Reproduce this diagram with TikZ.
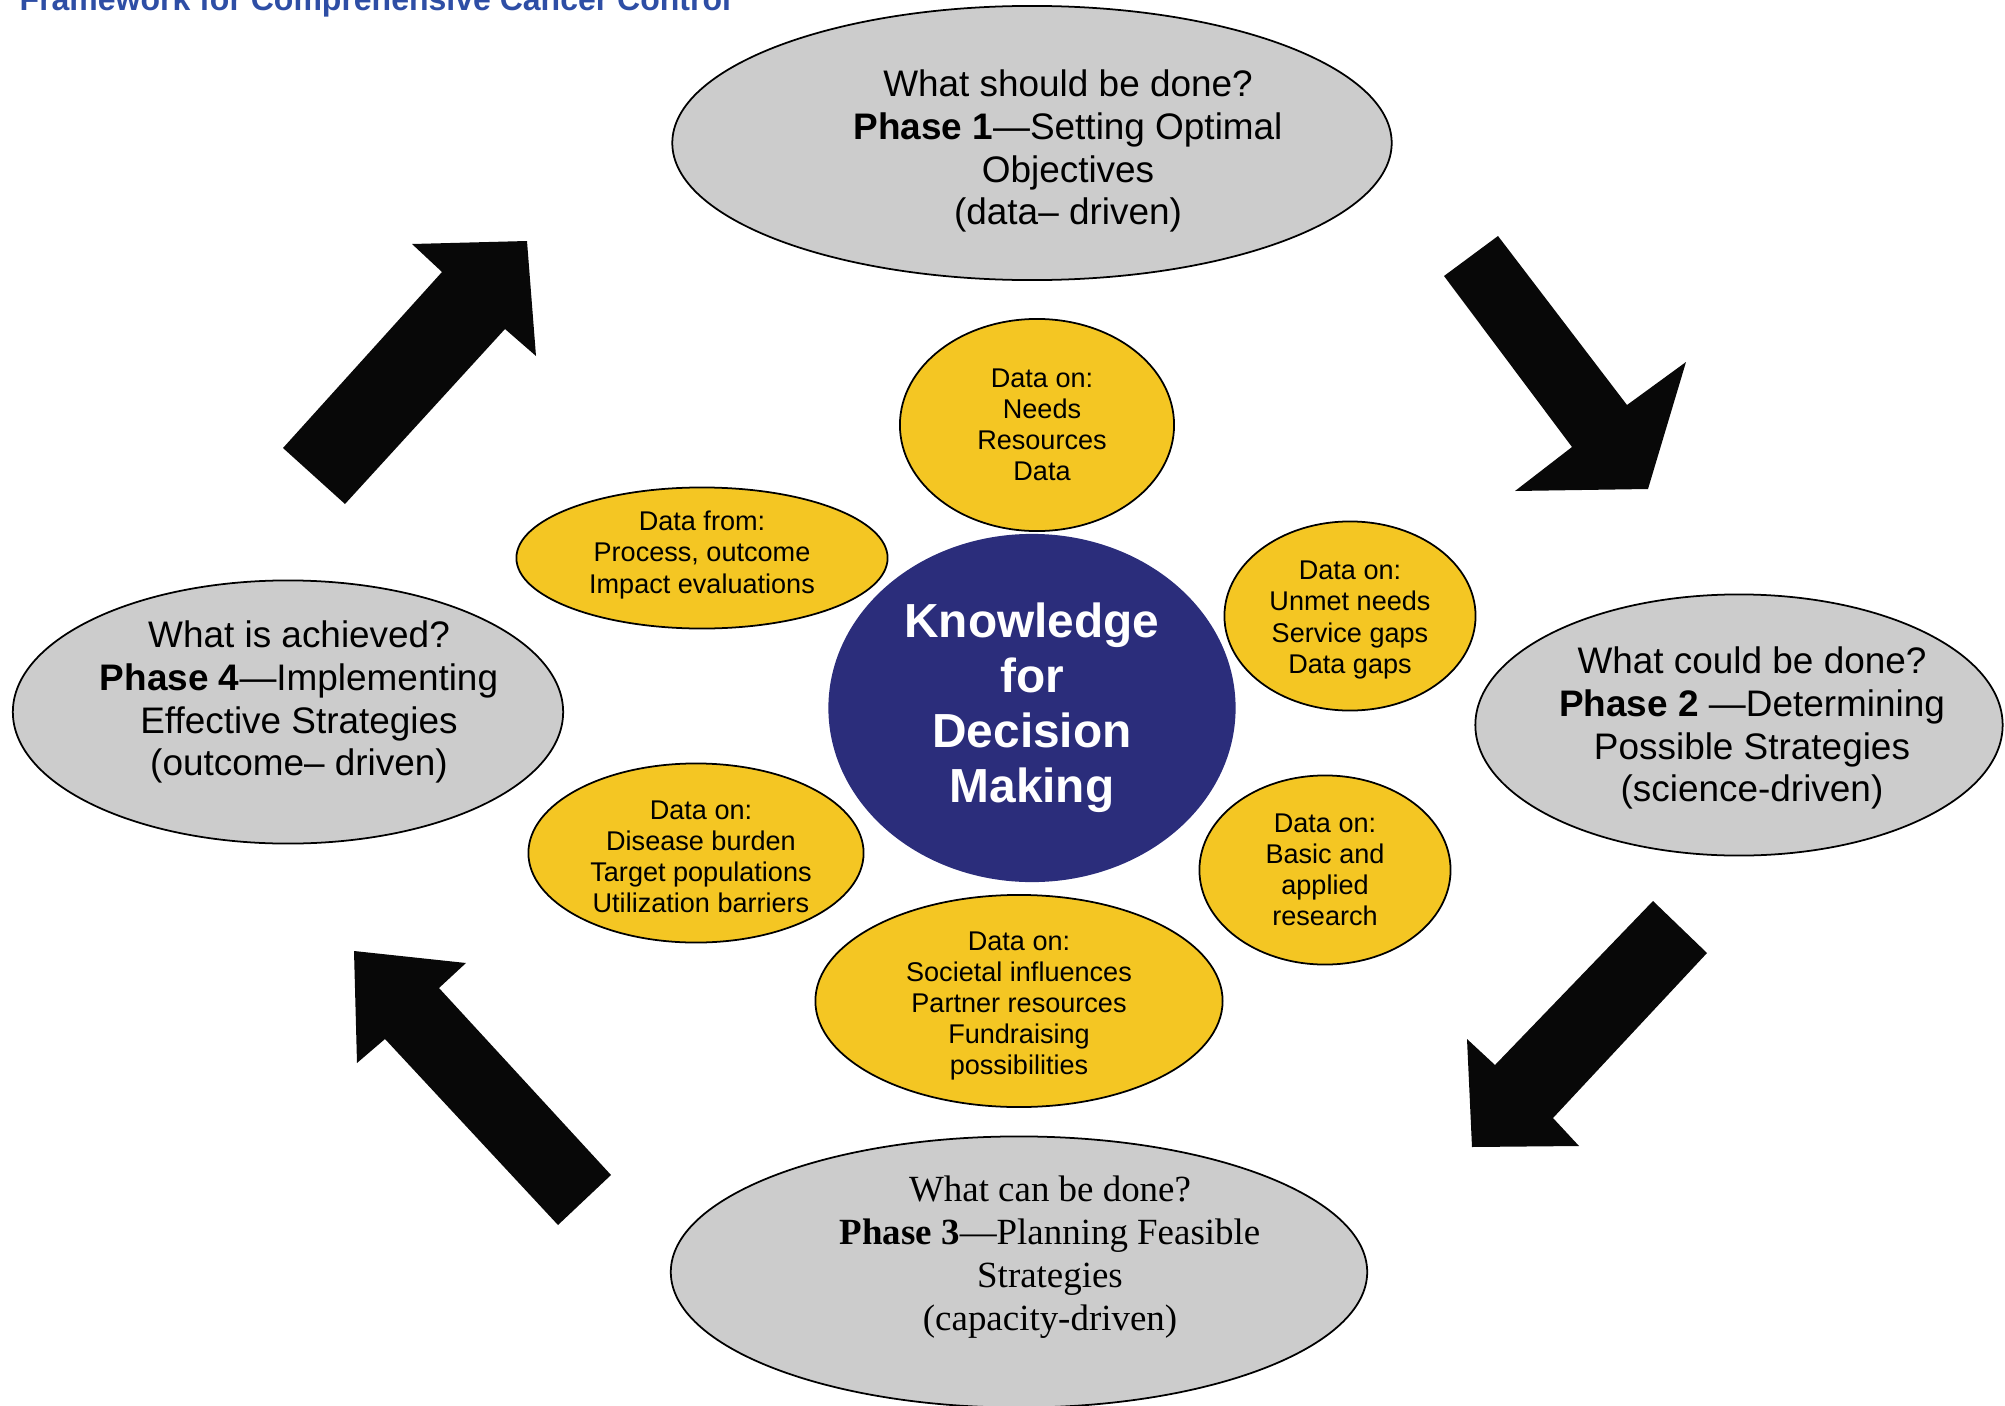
\documentclass[tikz,border=0pt]{standalone}
\usepackage{fontspec}
\setmainfont{Liberation Sans}
\newfontfamily\serifface{Liberation Serif}
\usetikzlibrary{shapes.geometric}
\definecolor{phasegray}{RGB}{204,204,204}
\definecolor{datayellow}{RGB}{244,198,35}
\definecolor{knownavy}{RGB}{43,45,123}
\definecolor{titleblue}{RGB}{46,78,165}
\tikzset{
  phase/.style={ellipse, draw, line width=0.5pt, fill=phasegray, inner sep=0pt},
  phasetext/.style={align=center, inner sep=0pt, font=\fontsize{10.5}{12.2}\selectfont},
  data/.style={ellipse, draw, line width=0.5pt, fill=datayellow, inner sep=0pt},
  datatext/.style={align=center, inner sep=0pt, font=\fontsize{7.7}{8.85}\selectfont},
  bigarrow/.style={fill=black!97}
}
\begin{document}
\begin{tikzpicture}[x=0.01cm, y=-0.01cm]
  \useasboundingbox (0,0) rectangle (2005,1406);
  \node[anchor=base west, inner sep=0pt, text=titleblue,
    font=\bfseries\fontsize{9.1}{11}\selectfont] (title) at (19,11)
    {Framework for Comprehensive Cancer Control};

  \node[phase, minimum width=7.19cm, minimum height=2.74cm,
    label={[phasetext, xshift=0.36cm, yshift=-0.08cm]center:{What should be done?\\
      \textbf{Phase 1}—Setting Optimal\\Objectives\\(data– driven)}}] (phase1) at (1032,143) {};
  \node[phase, minimum width=5.27cm, minimum height=2.61cm,
    label={[phasetext, xshift=0.13cm, yshift=-0.03cm]center:{What could be done?\\
      \textbf{Phase 2} —Determining\\Possible Strategies\\(science-driven)}}] (phase2) at (1739,725) {};
  \node[phase, minimum width=6.96cm, minimum height=2.71cm,
    label={[phasetext, font=\serifface\fontsize{10.5}{12.2}\selectfont, xshift=0.31cm, yshift=0.15cm]center:{What can be done?\\
      \textbf{Phase 3}—Planning Feasible\\Strategies\\(capacity-driven)}}] (phase3) at (1019,1272) {};
  \node[phase, minimum width=5.50cm, minimum height=2.63cm,
    label={[phasetext, xshift=0.11cm, yshift=0.10cm]center:{What is achieved?\\
      \textbf{Phase 4}—Implementing\\Effective Strategies\\(outcome– driven)}}] (phase4) at (288,712) {};

  \node[ellipse, fill=knownavy, minimum width=4.07cm, minimum height=3.48cm, inner sep=0pt,
    text=white, align=center, font=\bfseries\fontsize{13.6}{15.6}\selectfont]
    (knowledge) at (1032,708) {Knowledge\\for\\Decision\\Making};

  \node[data, minimum width=2.74cm, minimum height=2.12cm,
    label={[datatext, xshift=0.05cm]center:{Data on:\\Needs\\Resources\\Data}}] (needs) at (1037,425) {};
  \node[data, minimum width=3.71cm, minimum height=1.41cm,
    label={[datatext, yshift=0.03cm]center:{Data from:\\Process, outcome\\Impact evaluations}}] (evaluations) at (702,558) {};
  \node[data, minimum width=2.51cm, minimum height=1.89cm,
    label={[datatext, yshift=-0.04cm]center:{Data on:\\Unmet needs\\Service gaps\\Data gaps}}] (gaps) at (1350,616) {};
  \node[data, minimum width=2.51cm, minimum height=1.89cm,
    label={[datatext]center:{Data on:\\Basic and\\applied\\research}}] (research) at (1325,870) {};
  \node[data, minimum width=4.07cm, minimum height=2.12cm,
    label={[datatext, yshift=-0.05cm]center:{Data on:\\Societal influences\\Partner resources\\Fundraising\\possibilities}}] (societal) at (1019,1001) {};
  \node[data, minimum width=3.35cm, minimum height=1.79cm,
    label={[datatext, xshift=0.05cm, yshift=-0.04cm]center:{Data on:\\Disease burden\\Target populations\\Utilization barriers}}] (burden) at (696,853) {};

  \fill[bigarrow] (283,448) -- (442,272) -- (412,244) -- (527,241) -- (536,356) -- (505,329) -- (345,504) -- cycle;
  \fill[bigarrow] (1444,276) -- (1498,236) -- (1627,405) -- (1686,362) -- (1648,489) -- (1515,491) -- (1572,447) -- cycle;
  \fill[bigarrow] (1653,901) -- (1707,953) -- (1553,1118) -- (1579,1146) -- (1472,1147) -- (1467,1039) -- (1495,1065) -- cycle;
  \fill[bigarrow] (354,951) -- (466,963) -- (439,988) -- (611,1175) -- (558,1225) -- (385,1039) -- (357,1063) -- cycle;
\end{tikzpicture}
\end{document}
